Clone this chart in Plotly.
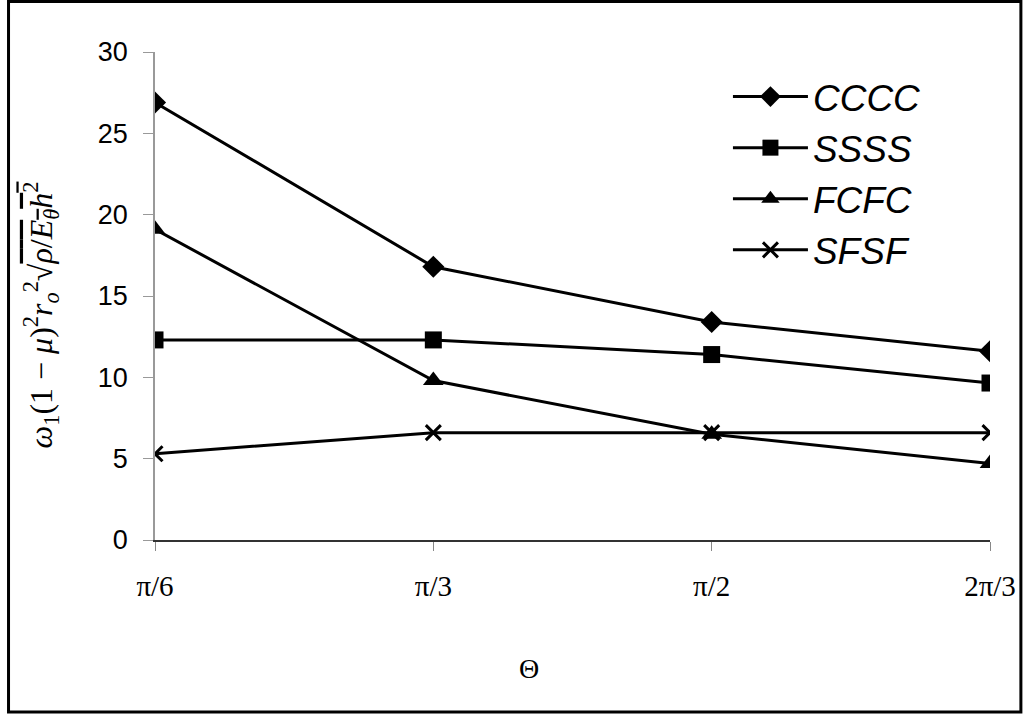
import plotly.graph_objects as go

# Boundary conditions vs. sector angle
angle_labels = ["π/6", "π/3", "π/2", "2π/3"]
cccc = [26.9, 16.8, 13.4, 11.6]
ssss = [12.3, 12.3, 11.4, 9.65]
fcfc = [19.1, 9.8, 6.5, 4.7]
sfsf = [5.3, 6.6, 6.6, 6.6]

series = [
    ("CCCC", cccc, "diamond", 17),
    ("SSSS", ssss, "square", 17),
    ("FCFC", fcfc, "triangle-up", 18),
    ("SFSF", sfsf, "x-thin", 15),
]

W, H = 1028, 715
ML, MR, MT, MB = 155, 35, 52, 175
pw, ph = W - ML - MR, H - MT - MB

fig = go.Figure()
xs = list(range(len(angle_labels)))
for name, vals, sym, size in series:
    fig.add_trace(go.Scatter(
        x=xs, y=vals, name=name, mode="lines+markers",
        line=dict(color="black", width=3),
        marker=dict(symbol=sym, size=size, color="black",
                    line=dict(color="black", width=3 if sym == "x-thin" else 0)),
    ))

# pixel -> paper helpers for the frame and free-standing labels
def px_x(p):
    return (p - ML) / pw

def px_y(p):
    return (H - MB - p) / ph

fig.add_shape(type="rect", xref="paper", yref="paper",
              x0=px_x(8), x1=px_x(1024), y0=px_y(712), y1=px_y(1.5),
              line=dict(color="black", width=3), layer="below")

fig.add_annotation(xref="paper", yref="paper", x=px_x(530), y=px_y(668),
                   xanchor="center", yanchor="middle",
                   text="Θ", showarrow=False,
                   font=dict(family="Liberation Serif", size=28, color="black"))

ytitle = ("<i>ω</i><sub>1</sub>(1 − <i>μ</i>)<sup>2</sup><i>r</i><sub><i>o</i></sub><sup>2</sup>"
          "√<span style='text-decoration:overline'><i>ρ</i>/<i>E</i><sub><i>θ</i></sub><i>h</i><sup>2</sup></span>")
fig.add_annotation(xref="paper", yref="paper", x=px_x(40), y=px_y(315),
                   xanchor="center", yanchor="middle",
                   text=ytitle, showarrow=False, textangle=-90,
                   font=dict(family="Liberation Serif", size=32, color="black"))

fig.update_layout(
    width=W, height=H,
    margin=dict(l=ML, r=MR, t=MT, b=MB),
    paper_bgcolor="white", plot_bgcolor="white",
    showlegend=True,
    legend=dict(x=px_x(730), y=px_y(66), xanchor="left", yanchor="top",
                font=dict(family="Liberation Sans", size=37, color="black", style="italic"),
                bgcolor="rgba(0,0,0,0)", itemwidth=75, tracegroupgap=0),
    xaxis=dict(range=[0, len(angle_labels) - 1], tickmode="array", tickvals=xs,
               ticktext=angle_labels, showgrid=False, zeroline=False,
               showline=True, linecolor="#333", linewidth=1.5,
               ticks="outside", ticklen=9, tickcolor="#888", ticklabelstandoff=10,
               tickfont=dict(family="Liberation Serif", size=29, color="black")),
    yaxis=dict(range=[0, 30], dtick=5, showgrid=False, zeroline=False,
               showline=True, linecolor="#999", linewidth=1.5,
               ticks="outside", ticklen=10, tickcolor="#999", ticklabelstandoff=10,
               tickfont=dict(family="Liberation Sans", size=27, color="black")),
)

fig.write_html("out.html")
